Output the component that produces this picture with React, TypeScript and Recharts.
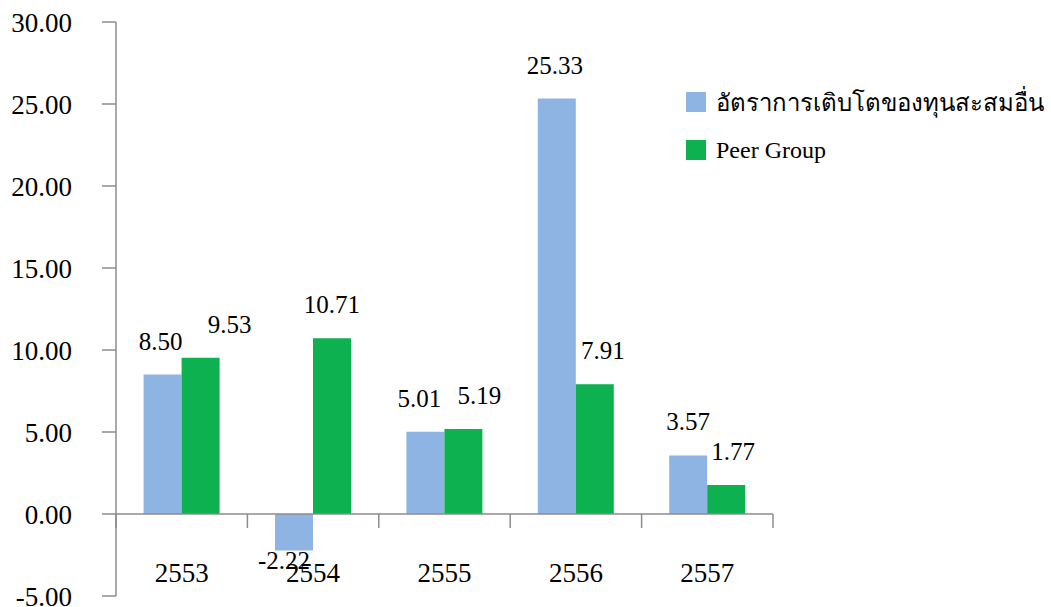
import React from 'react';
import { BarChart, Bar, XAxis, YAxis, ReferenceLine, LabelList } from 'recharts';

const years = ['2553', '2554', '2555', '2556', '2557'];
const growthOther = [8.5, -2.22, 5.01, 25.33, 3.57];
const peerGroup = [9.53, 10.71, 5.19, 7.91, 1.77];
const yTicks = [-5, 0, 5, 10, 15, 20, 25, 30];

const seriesNames = ['อัตราการเติบโตของทุนสะสมอื่น', 'Peer Group'];
const colors = ['#8EB4E3', '#0DB14F'];

// label nudges as in the original (moved by hand to avoid overlaps)
const nudgeA = [-2, -10, -6, -2, 0];
const nudgeB = [29, 0, 16, 8, 7];

const data = years.map((year, i) => ({ year, a: growthOther[i], b: peerGroup[i] }));

const W = 1051;
const H = 607;
const TOP = 22;
const BOTTOM_PLOT = 596;
const Y_MIN = -5;
const Y_MAX = 30;
const zeroY = TOP + ((BOTTOM_PLOT - TOP) * Y_MAX) / (Y_MAX - Y_MIN);
const FONT = 'Liberation Serif, DejaVu Serif, serif';
const AXIS_COLOR = '#8c8c8c';

function CategoryTick(props: any) {
  const { x, payload, index } = props;
  const half = payload.offset || 0;
  return (
    <g>
      <line x1={x - half} y1={zeroY} x2={x - half} y2={zeroY + 14} stroke={AXIS_COLOR} strokeWidth={1.5} />
      {index === years.length - 1 && (
        <line x1={x + half} y1={zeroY} x2={x + half} y2={zeroY + 14} stroke={AXIS_COLOR} strokeWidth={1.5} />
      )}
      <text x={x} y={zeroY + 68} textAnchor="middle" fontSize={27} fontFamily={FONT} fill="#000">
        {payload.value}
      </text>
    </g>
  );
}

function makeLabel(nudge: number[]) {
  return function ValueLabel(props: any) {
    const { x, y, width, height, value, index } = props;
    const neg = value < 0;
    const end = neg ? Math.max(y, y + height) : Math.min(y, y + height);
    return (
      <text
        x={x + width / 2 + (nudge[index] || 0)}
        y={neg ? end + 19 : end - 25}
        textAnchor="middle"
        fontSize={25}
        fontFamily={FONT}
        fill="#000"
      >
        {Number(value).toFixed(2)}
      </text>
    );
  };
}

const LabelA = makeLabel(nudgeA);
const LabelB = makeLabel(nudgeB);

function LegendBox() {
  return (
    <div style={{ position: 'absolute', left: 686, top: 78, fontFamily: FONT, fontSize: 24, color: '#000' }}>
      {seriesNames.map((name, i) => (
        <div key={name} style={{ display: 'flex', alignItems: 'center', height: 48 }}>
          <span style={{ width: 20, height: 20, background: colors[i], marginRight: 10, display: 'inline-block' }} />
          <span style={{ whiteSpace: 'nowrap' }}>{name}</span>
        </div>
      ))}
    </div>
  );
}

export default function App() {
  return (
    <div style={{ position: 'absolute', left: 0, top: 0, width: W, height: H, background: '#fff' }}>
      <BarChart
        width={W}
        height={H}
        data={data}
        margin={{ top: TOP, right: 278, left: 0, bottom: 0 }}
        barCategoryGap="21%"
        barGap={0}
      >
        <XAxis
          dataKey="year"
          height={H - BOTTOM_PLOT}
          axisLine={false}
          tickLine={false}
          tick={<CategoryTick />}
          interval={0}
        />
        <YAxis
          width={116}
          domain={[Y_MIN, Y_MAX]}
          ticks={yTicks}
          interval={0}
          tickFormatter={(v: number) => v.toFixed(2)}
          axisLine={{ stroke: AXIS_COLOR, strokeWidth: 1.5 }}
          tickLine={{ stroke: AXIS_COLOR, strokeWidth: 1.5 }}
          tickSize={14}
          tickMargin={30}
          tick={{ fontSize: 27, fontFamily: FONT, fill: '#000' }}
        />
        <ReferenceLine y={0} stroke={AXIS_COLOR} strokeWidth={1.5} />
        <Bar dataKey="a" name={seriesNames[0]} fill={colors[0]} isAnimationActive={false}>
          <LabelList dataKey="a" content={<LabelA />} />
        </Bar>
        <Bar dataKey="b" name={seriesNames[1]} fill={colors[1]} isAnimationActive={false}>
          <LabelList dataKey="b" content={<LabelB />} />
        </Bar>
      </BarChart>
      <LegendBox />
    </div>
  );
}
